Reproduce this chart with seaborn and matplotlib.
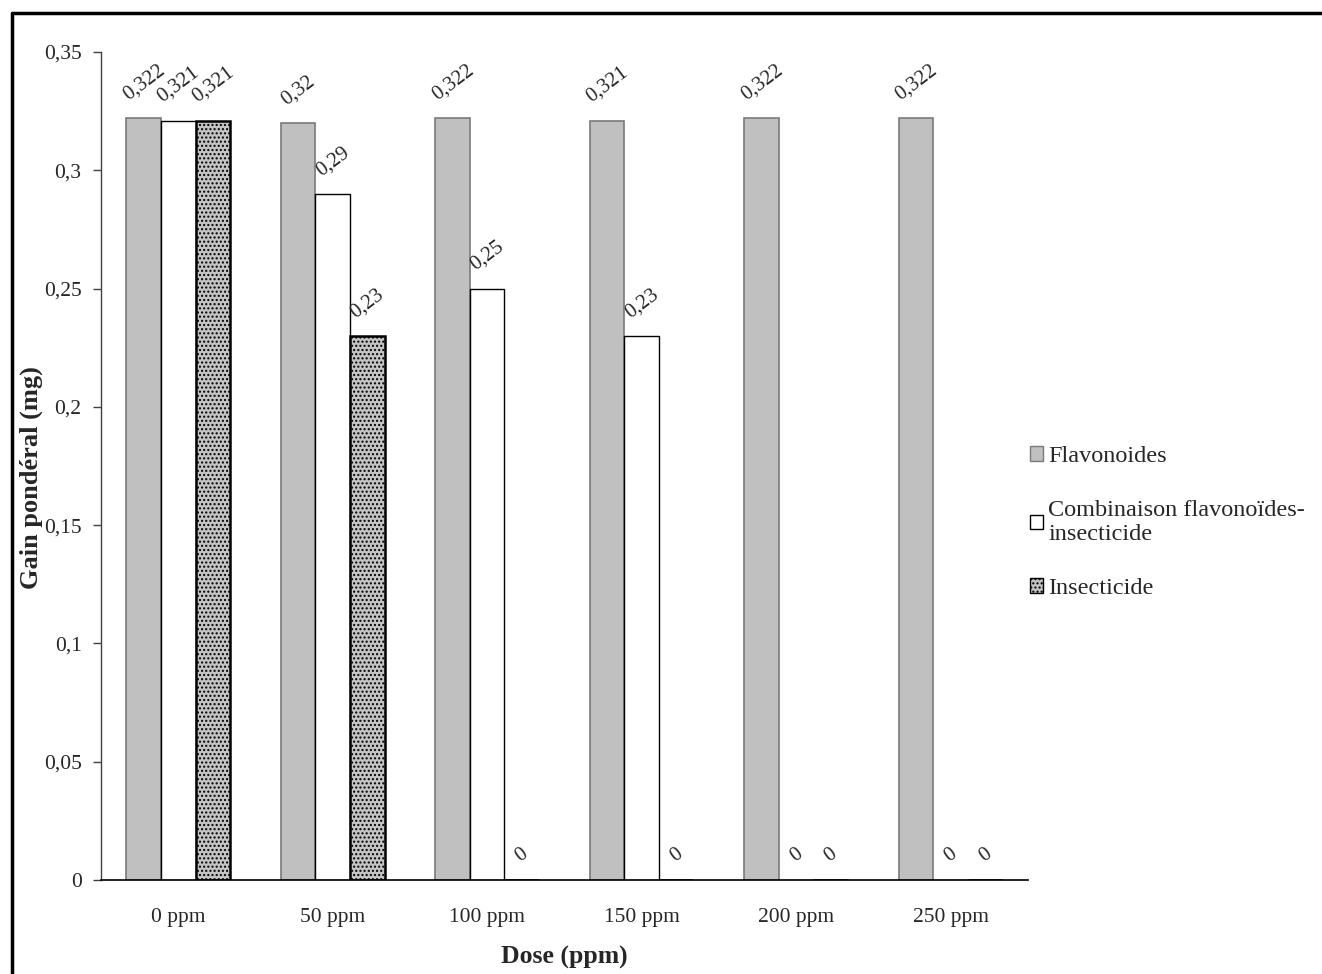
import matplotlib
matplotlib.use("Agg")
import matplotlib.pyplot as plt
from matplotlib.lines import Line2D
from matplotlib.patches import Patch
import seaborn as sns
import pandas as pd
import numpy as np

doses = ["0 ppm", "50 ppm", "100 ppm", "150 ppm", "200 ppm", "250 ppm"]
flavonoides = [0.322, 0.32, 0.322, 0.321, 0.322, 0.322]
combinaison = [0.321, 0.29, 0.25, 0.23, 0, 0]
insecticide = [0.321, 0.23, 0, 0, 0, 0]
series_names = ["Flavonoides", "Combinaison flavonoïdes-\ninsecticide", "Insecticide"]
yticks = [0, 0.05, 0.1, 0.15, 0.2, 0.25, 0.3, 0.35]

df = pd.DataFrame({
    "Dose": doses * 3,
    "Gain": flavonoides + combinaison + insecticide,
    "Serie": [series_names[0]] * 6 + [series_names[1]] * 6 + [series_names[2]] * 6,
})

sns.set_theme(style="white")
plt.rcParams["font.family"] = ["Liberation Serif", "DejaVu Serif"]

fig = plt.figure(figsize=(13.22, 9.74), dpi=100)
ax = fig.add_axes([0.0764, 0.0965, 0.7012, 0.8501])

sns.barplot(data=df, x="Dose", y="Gain", hue="Serie", order=doses,
            hue_order=series_names, width=0.67, ax=ax, legend=False,
            errorbar=None, saturation=1)

styles = [
    dict(facecolor="#c0c0c0", edgecolor="#7a7a7a", linewidth=1.2, hatch=None),
    dict(facecolor="white", edgecolor="black", linewidth=1.0, hatch=None),
    dict(facecolor="#c4c4c4", edgecolor="black", linewidth=1.8, hatch="...."),
]
for cont, st in zip(ax.containers, styles):
    for p in cont:
        p.set_facecolor(st["facecolor"])
        p.set_edgecolor(st["edgecolor"])
        p.set_linewidth(st["linewidth"])
        if st["hatch"]:
            p.set_hatch(st["hatch"])
    vals = [p.get_height() for p in cont]
    labels = [(f"{v:g}").replace(".", ",") for v in vals]
    ax.bar_label(cont, labels=labels, rotation=37, padding=10, fontsize=15)

ax.set_ylim(0, 0.35)
ax.set_xlim(-0.5, 5.5)
ax.set_yticks(yticks)
ax.set_yticklabels([(f"{v:g}").replace(".", ",") for v in yticks], fontsize=15.5)

ax.set_xticks(np.arange(-0.5, 6, 1.0))
ax.set_xticklabels([])
ax.set_xticks(np.arange(0, 6), minor=True)
ax.set_xticklabels(doses, minor=True, fontsize=15.5)
ax.tick_params(axis="x", which="minor", length=0, pad=20)
ax.tick_params(axis="x", which="major", direction="out", length=6, width=1, color="#404040")
ax.tick_params(axis="y", direction="out", length=6, width=1, color="#404040", left=True, pad=8)

for s in ["top", "right"]:
    ax.spines[s].set_visible(False)
ax.spines["left"].set_color("#404040")
ax.spines["bottom"].set_color("black")
ax.spines["left"].set_linewidth(1.0)
ax.spines["bottom"].set_linewidth(1.2)

ax.set_xlabel("Dose (ppm)", fontsize=18.5, fontweight="bold", labelpad=14)
ax.set_ylabel("Gain pondéral (mg)", fontsize=19, fontweight="bold")
ax.yaxis.set_label_coords(-0.063, 0.4855)

handles = [Patch(facecolor=st["facecolor"], edgecolor=st["edgecolor"],
                 linewidth=1.0, hatch=st["hatch"]) for st in styles]
fig.legend(handles, series_names, loc="center left", bbox_to_anchor=(0.7625, 0.4636),
           frameon=False, fontsize=17.5, handlelength=0.55, handleheight=0.55,
           handletextpad=0.2, labelspacing=1.35)

# outer frame (left and top)
fig.add_artist(Line2D([0.0087, 0.0087], [0.0, 0.9865], transform=fig.transFigure,
                      color="black", linewidth=2.5))
fig.add_artist(Line2D([0.0087, 1.0], [0.9865, 0.9865], transform=fig.transFigure,
                      color="black", linewidth=2.5))

fig.savefig("out.png", dpi=100, facecolor="white")
